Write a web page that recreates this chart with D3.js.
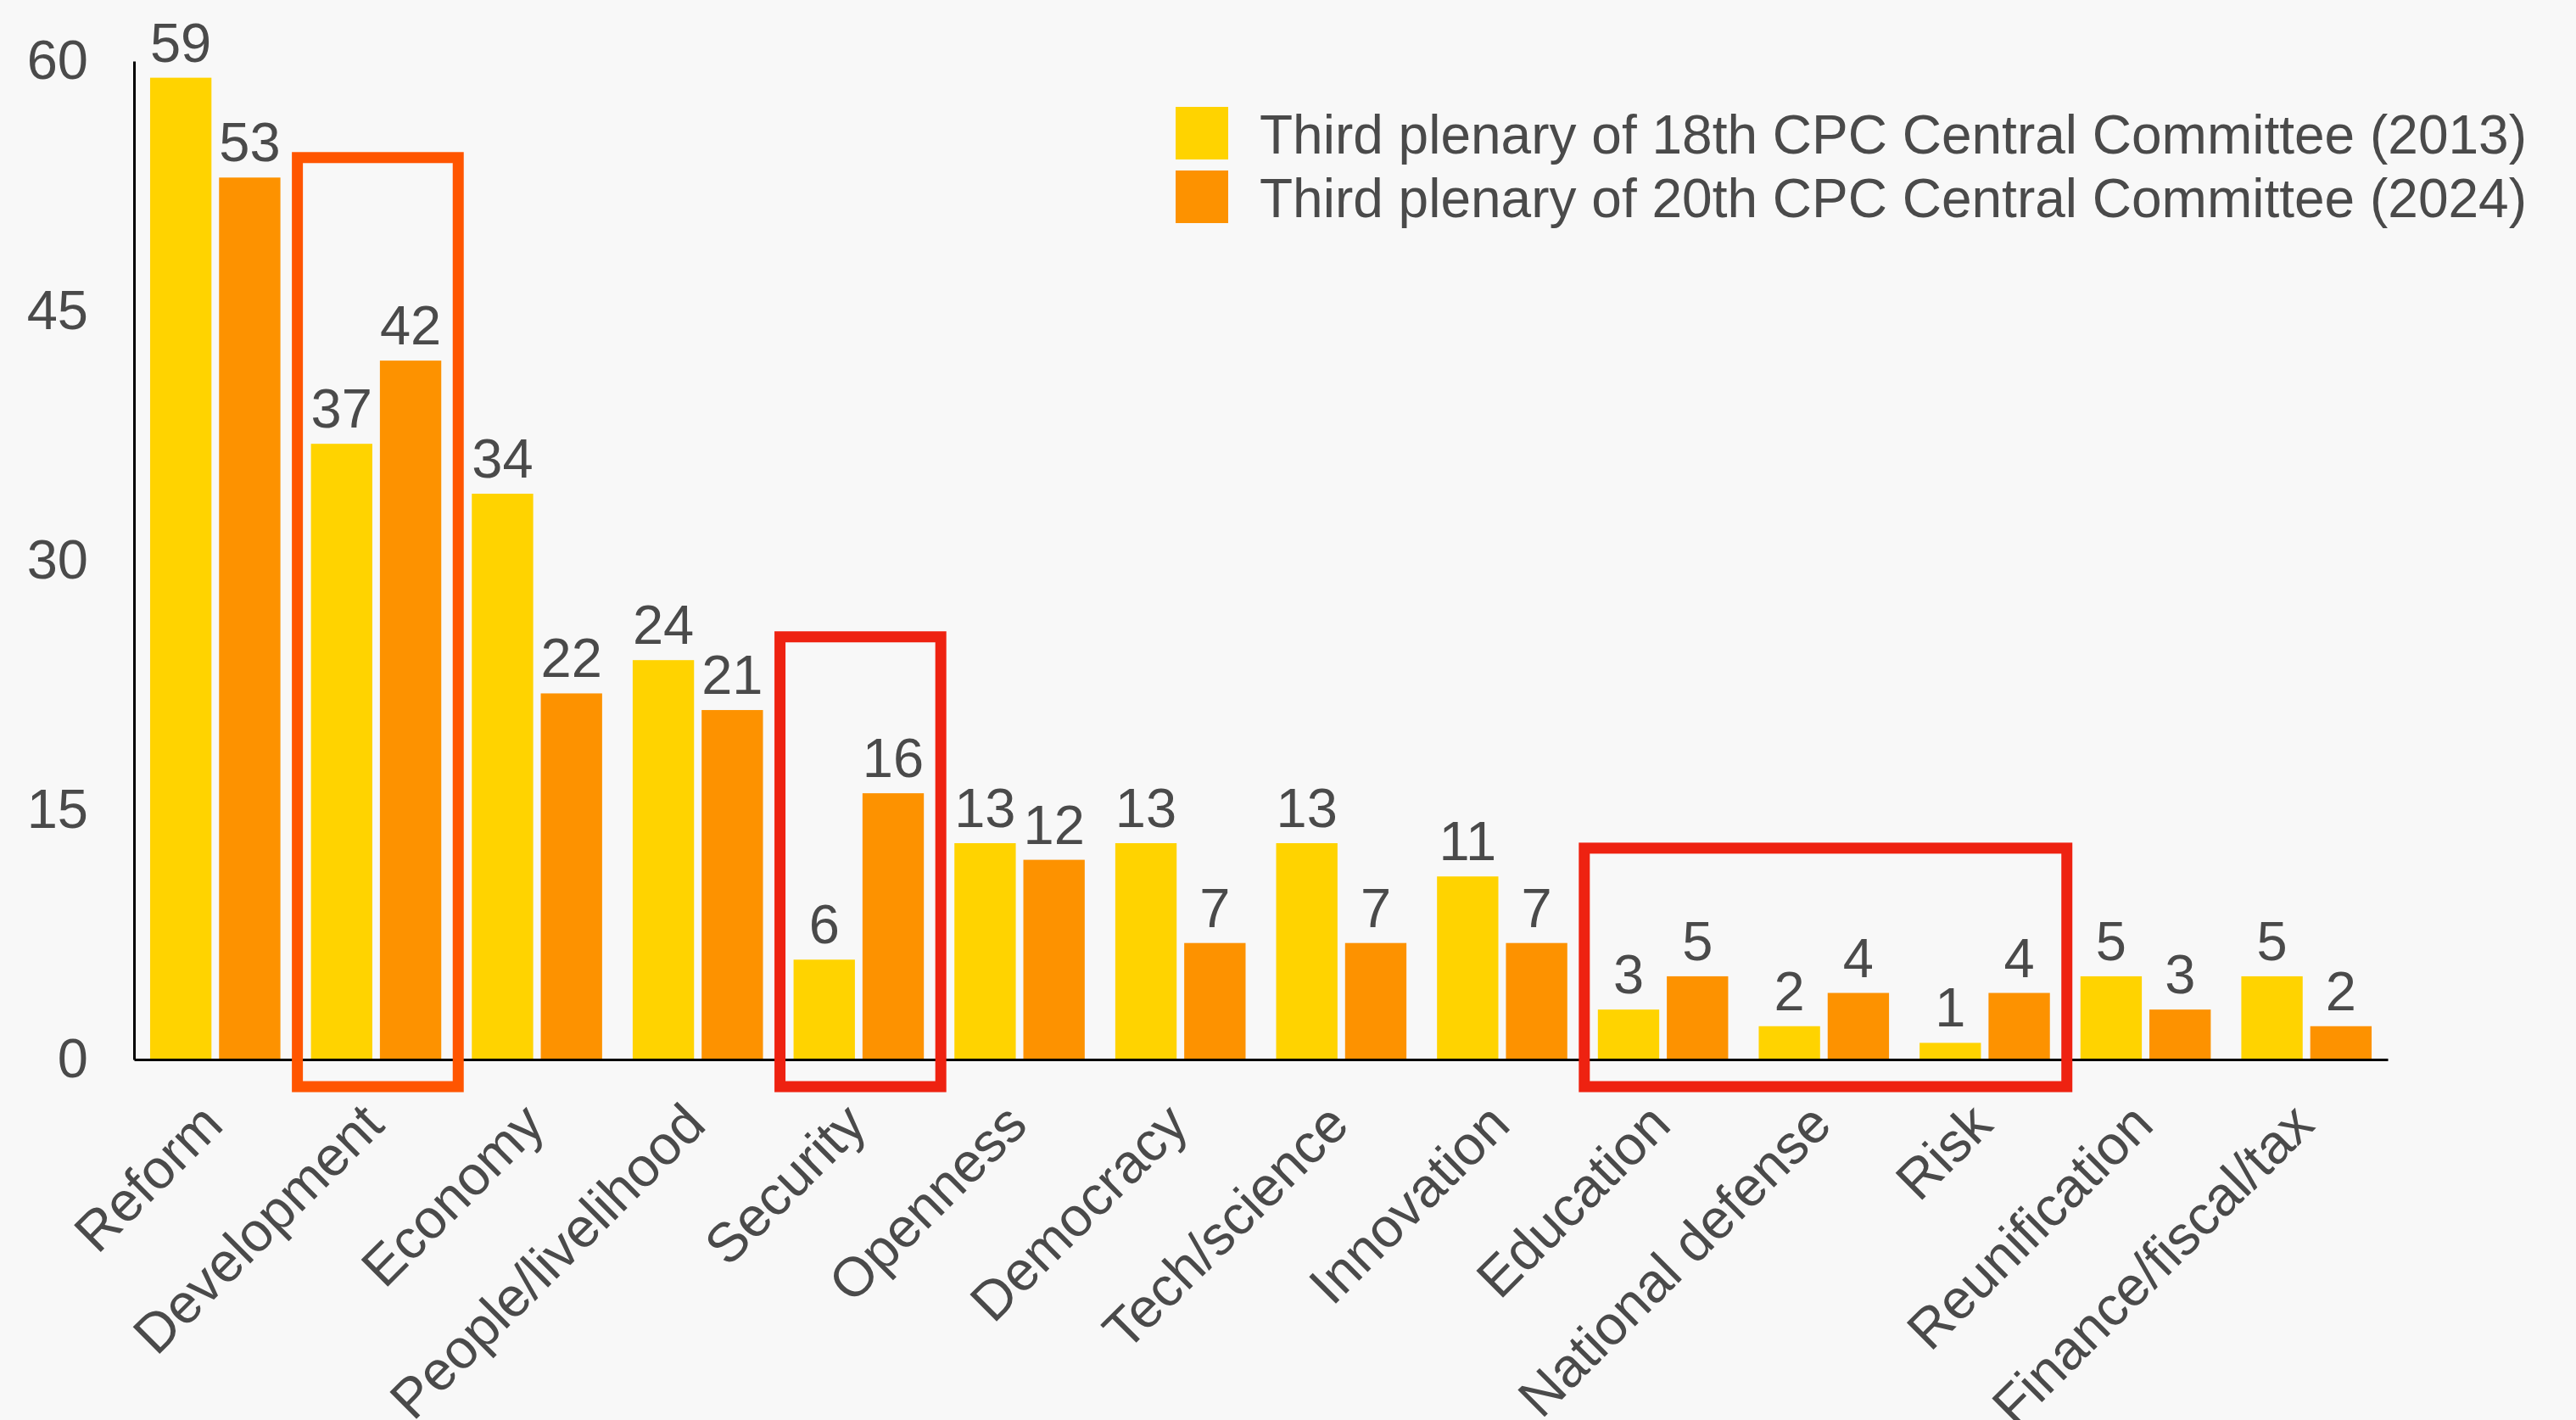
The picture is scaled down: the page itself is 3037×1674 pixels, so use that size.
<!DOCTYPE html>
<html>
<head>
<meta charset="utf-8">
<script src="https://cdn.jsdelivr.net/npm/d3@7"></script>
<style>
  html, body { margin: 0; padding: 0; background: #f8f8f8; }
  text { font-family: "Liberation Sans", Arial, Helvetica, sans-serif; }
</style>
</head>
<body>
<div id="chart"></div>
<script>
// data
const categories = ["Reform", "Development", "Economy", "People/livelihood", "Security", "Openness",
  "Democracy", "Tech/science", "Innovation", "Education", "National defense", "Risk",
  "Reunification", "Finance/fiscal/tax"];
const seriesNames = ["Third plenary of 18th CPC Central Committee (2013)",
  "Third plenary of 20th CPC Central Committee (2024)"];
const values2013 = [59, 37, 34, 24, 6, 13, 13, 13, 11, 3, 2, 1, 5, 5];
const values2024 = [53, 42, 22, 21, 16, 12, 7, 7, 7, 5, 4, 4, 3, 2];
const yTicks = [0, 15, 30, 45, 60];

// highlighted groups (first category, last category, top of the box in axis units)
const highlightFrom = ["Development", "Security", "Education"];
const highlightTo = ["Development", "Security", "Risk"];
const highlightTop = [54.2, 25.4, 12.7];

const width = 3037, height = 1674;
const seriesColors = ["#ffd300", "#fd9200"];
const boxColors = ["#ff5500", "#ee2211", "#ee2211"];
const textColor = "#4a4a4a";
const fontSize = 65;

const svg = d3.select("#chart")
  .append("svg")
  .attr("width", width)
  .attr("height", height)
  .attr("viewBox", [0, 0, width, height]);

svg.append("rect")
  .attr("width", width)
  .attr("height", height)
  .attr("fill", "#f8f8f8");

const y = d3.scaleLinear().domain([0, 60]).range([1249, 72]);

const x0 = d3.scaleBand()
  .domain(categories)
  .range([158, 2815])
  .paddingInner(0.19)
  .paddingOuter(0.1);

const x1 = d3.scaleBand()
  .domain([0, 1])
  .range([0, x0.bandwidth()])
  .paddingInner(0.11);

const rows = categories.map((c, i) => ({ cat: c, vals: [values2013[i], values2024[i]] }));

// bars
const group = svg.append("g")
  .selectAll("g")
  .data(rows)
  .join("g")
  .attr("transform", d => `translate(${x0(d.cat)},0)`);

group.selectAll("rect")
  .data(d => d.vals.map((v, k) => ({ k, v })))
  .join("rect")
  .attr("x", d => x1(d.k))
  .attr("y", d => y(d.v))
  .attr("width", x1.bandwidth())
  .attr("height", d => y(0) - y(d.v))
  .attr("fill", d => seriesColors[d.k]);

group.selectAll("text")
  .data(d => d.vals.map((v, k) => ({ k, v })))
  .join("text")
  .attr("x", d => x1(d.k) + x1.bandwidth() / 2)
  .attr("y", d => y(d.v) - 19)
  .attr("text-anchor", "middle")
  .attr("font-size", fontSize)
  .attr("fill", textColor)
  .text(d => d.v);

// y axis
const yAxis = svg.append("g")
  .attr("transform", `translate(${x0.range()[0]},0)`)
  .call(d3.axisLeft(y).tickValues(yTicks).tickSize(0).tickPadding(54));
yAxis.select(".domain").attr("stroke", "#000").attr("stroke-width", 3);
yAxis.selectAll("text")
  .attr("font-size", fontSize)
  .attr("fill", textColor)
  .attr("font-family", "Liberation Sans, Arial, sans-serif");

// x axis
const xAxis = svg.append("g")
  .attr("transform", `translate(0,${y(0)})`)
  .call(d3.axisBottom(x0).tickSize(0).tickSizeOuter(0));
xAxis.select(".domain").attr("stroke", "#000").attr("stroke-width", 3);
xAxis.selectAll("text")
  .attr("font-size", fontSize)
  .attr("fill", textColor)
  .attr("font-family", "Liberation Sans, Arial, sans-serif")
  .attr("text-anchor", "end")
  .attr("x", 0)
  .attr("y", 0)
  .attr("dy", 0)
  .attr("transform", "translate(12,80) rotate(-45)");

// highlight boxes
svg.append("g")
  .selectAll("rect")
  .data(highlightFrom.map((f, i) => ({ f, t: highlightTo[i], top: highlightTop[i], i })))
  .join("rect")
  .attr("x", d => x0(d.f) - 16)
  .attr("y", d => y(d.top))
  .attr("width", d => x0(d.t) + x0.bandwidth() + 20 - (x0(d.f) - 16))
  .attr("height", d => y(0) + 32 - y(d.top))
  .attr("fill", "none")
  .attr("stroke", d => boxColors[d.i])
  .attr("stroke-width", 13);

// legend
const legend = svg.append("g")
  .attr("transform", "translate(1386,126)")
  .selectAll("g")
  .data(seriesNames)
  .join("g")
  .attr("transform", (d, i) => `translate(0,${i * 75})`);

legend.append("rect")
  .attr("width", 62)
  .attr("height", 62)
  .attr("fill", (d, i) => seriesColors[i]);

legend.append("text")
  .attr("x", 99)
  .attr("y", 55)
  .attr("font-size", 64)
  .attr("fill", textColor)
  .text(d => d);
</script>
</body>
</html>
